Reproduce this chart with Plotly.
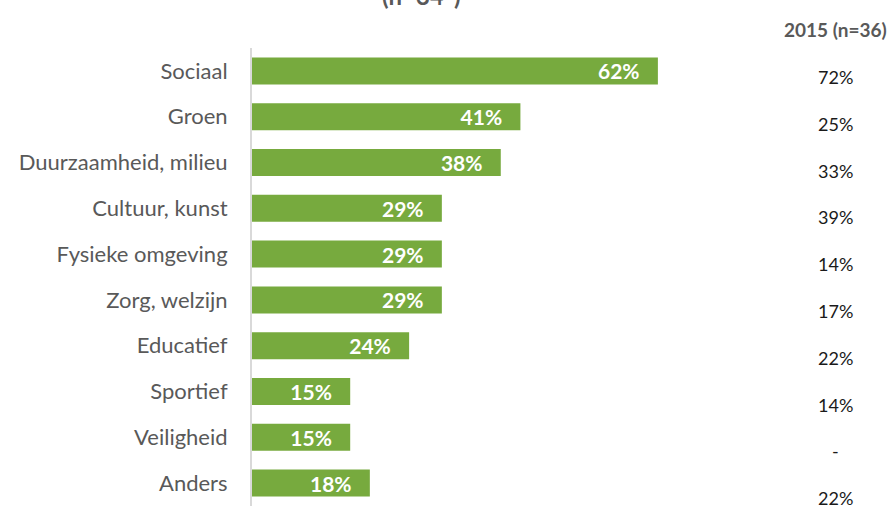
import plotly.graph_objects as go

categories = ["Sociaal", "Groen", "Duurzaamheid, milieu", "Cultuur, kunst",
              "Fysieke omgeving", "Zorg, welzijn", "Educatief", "Sportief",
              "Veiligheid", "Anders"]
values_current = [62, 41, 38, 29, 29, 29, 24, 15, 15, 18]
values_2015 = ["72%", "25%", "33%", "39%", "14%", "17%", "22%", "14%", "-", "22%"]
title_text = "(n=34*)"
header_2015 = "2015 (n=36)"

W, H = 891, 509
ml, mt, mb = 252, 48, 3
plot_h = H - mt - mb
xmax = 75
plot_w = 6.55 * xmax
mr = W - ml - plot_w

FONT = "Lato, Open Sans, sans-serif"

fig = go.Figure()
fig.add_trace(go.Bar(
    x=values_current,
    y=categories,
    orientation="h",
    marker=dict(color="#77AA3E", line=dict(width=0)),
    text=[f"{v}%\u00a0\u00a0\u00a0" for v in values_current],
    textposition="inside",
    insidetextanchor="end",
    textfont=dict(color="white", size=21, family=FONT, weight="bold"),
    cliponaxis=False,
    hoverinfo="skip",
))

annotations = []
# 2015 column
annotations.append(dict(
    x=(836 - ml) / plot_w, y=1 + (mt - 29) / plot_h, xref="paper", yref="paper",
    text=f"<b>{header_2015}</b>", showarrow=False,
    font=dict(size=19, color="#595959", family=FONT),
    xanchor="center", yanchor="middle"))
for i, t in enumerate(values_2015):
    ypx = 77 + i * 46.8
    annotations.append(dict(
        x=(836 - ml) / plot_w, y=1 - (ypx - mt) / plot_h, xref="paper", yref="paper",
        text=t, showarrow=False,
        font=dict(size=18, color="#1a1a1a", family=FONT),
        xanchor="center", yanchor="middle"))
# cut-off title
annotations.append(dict(
    x=(422 - ml) / plot_w, y=1 + (mt - 12) / plot_h, xref="paper", yref="paper",
    text=f"<b>{title_text}</b>", showarrow=False,
    font=dict(size=24, color="#595959", family=FONT),
    xanchor="center", yanchor="bottom"))

fig.update_layout(
    width=W, height=H,
    margin=dict(l=ml, r=mr, t=mt, b=mb, pad=0),
    plot_bgcolor="white", paper_bgcolor="white",
    bargap=0.41,
    showlegend=False,
    annotations=annotations,
    uniformtext=dict(mode="show", minsize=21),
    xaxis=dict(range=[0, xmax], visible=False, fixedrange=True),
    yaxis=dict(autorange="reversed", showline=True, linecolor="#d9d9d9", linewidth=2,
               ticks="", showgrid=False, zeroline=False,
               tickfont=dict(size=22, color="#595959", family=FONT),
               ticklabelstandoff=18),
)

fig.write_html("out.html")
